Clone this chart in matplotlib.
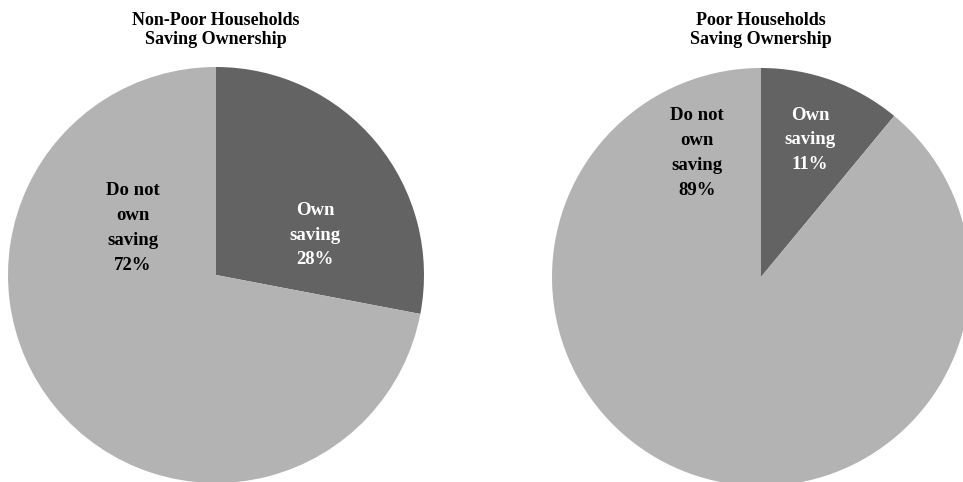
import matplotlib
matplotlib.use('Agg')
import matplotlib.pyplot as plt

labels = ['Own\nsaving', 'Do not\nown\nsaving']
nonpoor = [28, 72]
poor = [11, 89]
titles = ['Non-Poor Households\nSaving Ownership', 'Poor Households\nSaving Ownership']
colors = ['#636363', '#b3b3b3']
txt_colors = ['white', 'black']

plt.rcParams['font.family'] = ['Liberation Serif', 'DejaVu Serif']

fig = plt.figure(figsize=(9.63, 4.82), dpi=100)
ax = fig.add_axes([0, 0, 1, 1])

# pixel layout: centre x, centre y, radius, label spots
pies = [
    (nonpoor, 216, 207, 208, [(315, 247), (133, 254)]),
    (poor, 761, 205, 209, [(810, 342), (697, 329)]),
]

for k, (vals, cx, cy, r, spots) in enumerate(pies):
    ax.pie(vals, colors=colors, startangle=90, counterclock=False,
           center=(cx, cy), radius=r, frame=True,
           wedgeprops=dict(linewidth=0))
    for i in range(len(vals)):
        ax.text(spots[i][0], spots[i][1], f"{labels[i]}\n{vals[i]}%",
                ha='center', va='center', color=txt_colors[i],
                fontsize=13.5, fontweight='bold', linespacing=1.6)
    ax.text(cx, 452, titles[k], ha='center', va='center', fontsize=13,
            fontweight='bold', linespacing=1.15)

ax.set_xlim(0, 963)
ax.set_ylim(0, 482)
ax.set_aspect('equal')
ax.axis('off')
fig.savefig('out.png', dpi=100)
